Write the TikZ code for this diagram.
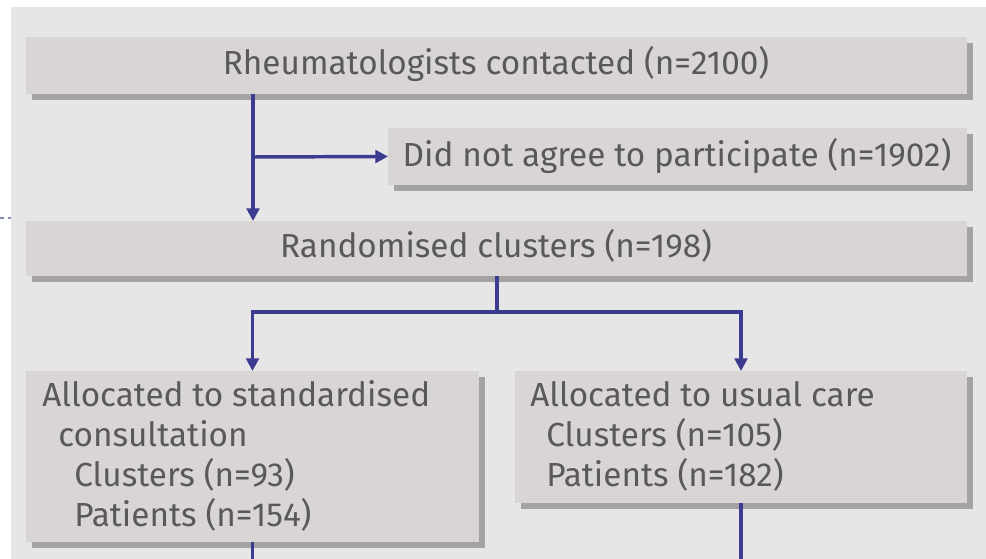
\documentclass[tikz,border=0pt]{standalone}
\usepackage{fontspec}
\setmainfont{Fira Sans}
\usetikzlibrary{arrows.meta,shadows}
\definecolor{bgc}{HTML}{E6E6E6}
\definecolor{boxc}{HTML}{D9D5D5}
\definecolor{shc}{HTML}{A4A2A2}
\definecolor{txc}{HTML}{595959}
\definecolor{arc}{HTML}{3B3B8F}
\definecolor{dsc}{HTML}{8090AA}
\tikzset{
  x=0.75pt, y=-0.75pt,
  boxnode/.style={fill=boxc, draw=none, inner sep=0pt, outer sep=0pt,
    drop shadow={shadow xshift=4.5pt, shadow yshift=-4.5pt, fill=shc, opacity=1}},
  lbl/.style={text=txc, inner sep=0pt, font=\fontsize{25}{30}\selectfont},
  conn/.style={draw=arc, line width=2.6pt},
  arr/.style={conn, -{Triangle[length=9.5pt,width=9.5pt]}}
}
\begin{document}
\begin{tikzpicture}
\useasboundingbox (0,0) rectangle (986,559);
\fill[bgc] (11,7) rectangle (986,559);
\draw[dsc, line width=0.8pt, dash pattern=on 3pt off 3pt] (0,218) -- (11,218);
% boxes
\node[boxnode, minimum width=705.75pt, minimum height=42.75pt] (b1) at (496.5,65.5) {};
\node[boxnode, minimum width=434.25pt, minimum height=42.75pt] (b2) at (677.5,156.5) {};
\node[boxnode, minimum width=705.75pt, minimum height=41.25pt] (b3) at (496.5,248.5) {};
\node[boxnode, minimum width=339.75pt, minimum height=128.25pt] (b4) at (252.5,456.5) {};
\node[boxnode, minimum width=339pt, minimum height=99pt] (b5) at (741,437) {};
% texts
\node[lbl, anchor=base] (t1) at (496,75) {Rheumatologists contacted (n=2100)};
\node[lbl, anchor=base] (t2) at (677,167) {Did not agree to participate (n=1902)};
\node[lbl, anchor=base] (t3) at (496,258) {Randomised clusters (n=198)};
\node[lbl, anchor=base west] (t4a) at (42,407) {Allocated to standardised};
\node[lbl, anchor=base west] (t4b) at (58,447) {consultation};
\node[lbl, anchor=base west] (t4c) at (74,487) {Clusters (n=93)};
\node[lbl, anchor=base west] (t4d) at (74,527) {Patients (n=154)};
\node[lbl, anchor=base west] (t5a) at (530,407) {Allocated to usual care};
\node[lbl, anchor=base west] (t5b) at (546,447) {Clusters (n=105)};
\node[lbl, anchor=base west] (t5c) at (546,487) {Patients (n=182)};
% connectors
\coordinate (j1) at (253,157);
\coordinate (j2) at (497,312);
\coordinate (e4) at (252.5,559);
\coordinate (e5) at (741,559);
\draw[arr] (b1.south -| j1) -- (b3.north -| j1);
\draw[arr] (j1) -- (b2.west);
\draw[conn] (b3.south -| j2) -- (j2);
\draw[arr] (j2) -| (b4.north);
\draw[arr] (j2) -| (b5.north);
\draw[conn] (b4.south) -- (e4);
\draw[conn] (b5.south) -- (e5);
\end{tikzpicture}
\end{document}
